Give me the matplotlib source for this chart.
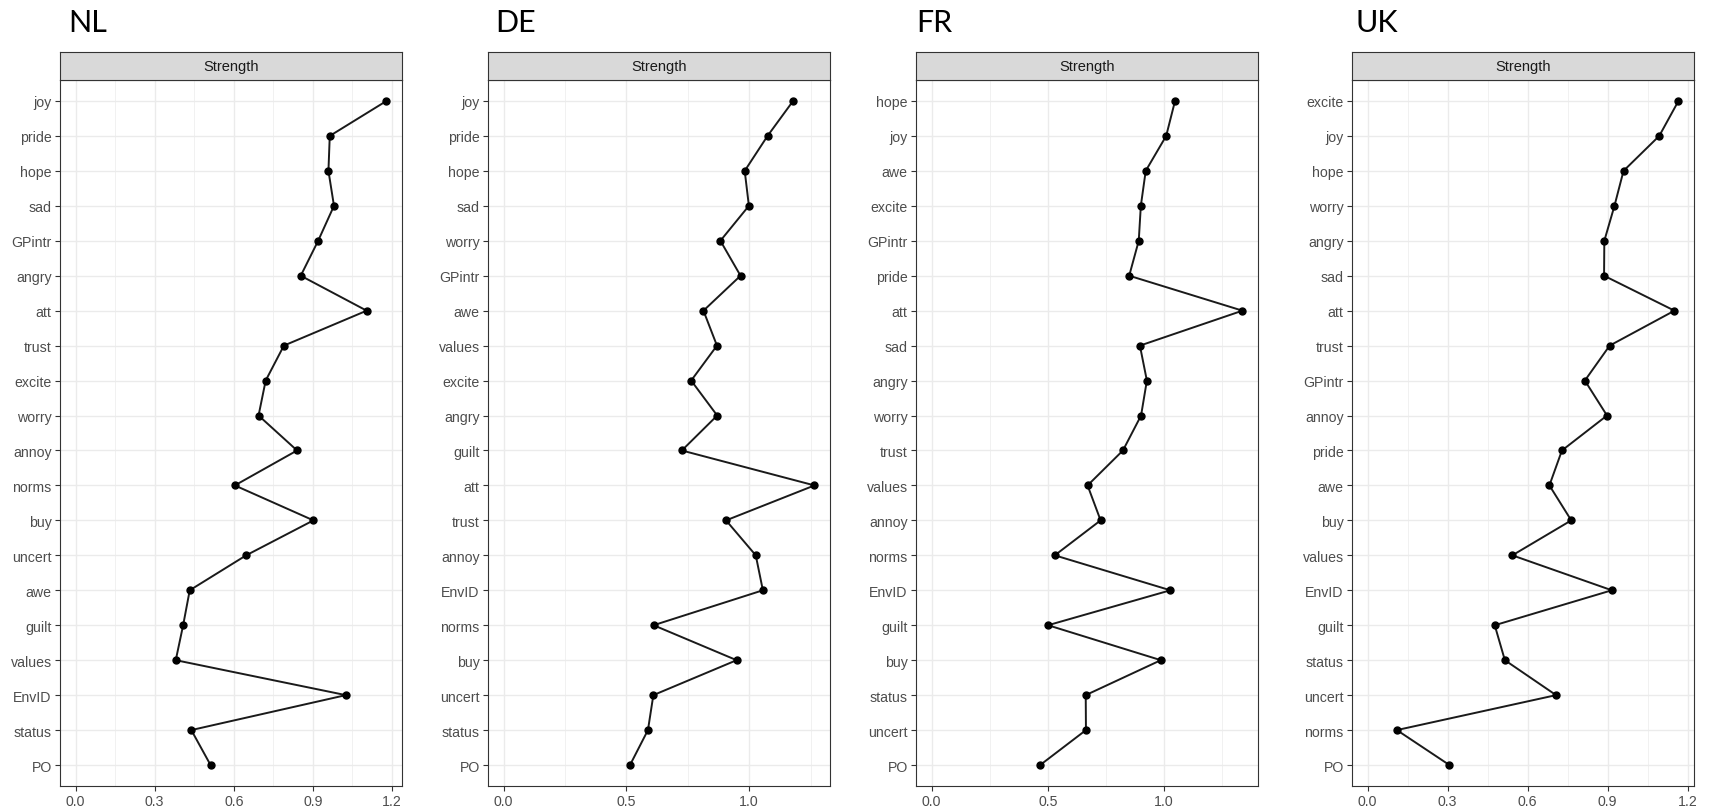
import matplotlib
matplotlib.use("Agg")
import matplotlib.pyplot as plt
from matplotlib.ticker import MultipleLocator, FormatStrFormatter

# =====================================================
# Data (top to bottom)
# =====================================================

countries = ["NL", "DE", "FR", "UK"]

nl_labels = ["joy", "pride", "hope", "sad", "GPintr", "angry", "att", "trust",
             "excite", "worry", "annoy", "norms", "buy", "uncert", "awe",
             "guilt", "values", "EnvID", "status", "PO"]
nl_vals = [1.179, 0.964, 0.959, 0.980, 0.920, 0.854, 1.104, 0.790, 0.721,
           0.694, 0.840, 0.604, 0.902, 0.647, 0.433, 0.408, 0.380, 1.025,
           0.439, 0.512]

de_labels = ["joy", "pride", "hope", "sad", "worry", "GPintr", "awe", "values",
             "excite", "angry", "guilt", "att", "trust", "annoy", "EnvID",
             "norms", "buy", "uncert", "status", "PO"]
de_vals = [1.179, 1.075, 0.982, 0.999, 0.883, 0.965, 0.814, 0.869, 0.764,
           0.870, 0.726, 1.266, 0.906, 1.027, 1.056, 0.611, 0.949, 0.610,
           0.588, 0.515]

fr_labels = ["hope", "joy", "awe", "excite", "GPintr", "pride", "att", "sad",
             "angry", "worry", "trust", "values", "annoy", "norms", "EnvID",
             "guilt", "buy", "status", "uncert", "PO"]
fr_vals = [1.047, 1.009, 0.921, 0.900, 0.891, 0.850, 1.337, 0.896, 0.926,
           0.901, 0.823, 0.671, 0.727, 0.530, 1.027, 0.501, 0.986, 0.663,
           0.664, 0.467]

uk_labels = ["excite", "joy", "hope", "worry", "angry", "sad", "att", "trust",
             "GPintr", "annoy", "pride", "awe", "buy", "values", "EnvID",
             "guilt", "status", "uncert", "norms", "PO"]
uk_vals = [1.166, 1.094, 0.960, 0.926, 0.888, 0.887, 1.151, 0.908, 0.815,
           0.898, 0.729, 0.682, 0.764, 0.543, 0.916, 0.477, 0.515, 0.707,
           0.110, 0.307]

tick_steps = [0.3, 0.5, 0.5, 0.3]

panels = [
    (nl_labels, nl_vals),
    (de_labels, de_vals),
    (fr_labels, fr_vals),
    (uk_labels, uk_vals),
]

# =====================================================
# Layout (pixels of a 1713x812 canvas)
# =====================================================

W, H = 1713, 812
panel_lefts = [60, 488, 916, 1352]
title_lefts = [68, 495, 916, 1356]
panel_w = 342
panel_top = 81
panel_bottom = 787
strip_top = 53

plt.rcParams["font.family"] = ["Liberation Sans", "DejaVu Sans"]

fig = plt.figure(figsize=(W / 100, H / 100), dpi=100)

for i, (labels, vals) in enumerate(panels):
    left = panel_lefts[i] / W
    width = panel_w / W
    bottom = (H - panel_bottom) / H
    height = (panel_bottom - panel_top) / H

    ax = fig.add_axes([left, bottom, width, height])
    n = len(labels)
    ypos = list(range(n))

    ax.plot(vals, ypos, color="#1a1a1a", lw=1.4, zorder=3)
    ax.plot(vals, ypos, "o", color="black", ms=5, zorder=4)

    top_val = max(vals)
    ax.set_xlim(-0.05 * top_val, 1.05 * top_val)
    ax.set_ylim(n - 1 + 0.6, -0.6)

    ax.set_yticks(ypos)
    ax.set_yticklabels(labels)
    ax.xaxis.set_major_locator(MultipleLocator(tick_steps[i]))
    ax.xaxis.set_minor_locator(MultipleLocator(tick_steps[i] / 2))
    ax.xaxis.set_major_formatter(FormatStrFormatter("%.1f"))

    ax.grid(which="major", color="#ebebeb", lw=1.0, zorder=0)
    ax.grid(which="minor", axis="x", color="#ebebeb", lw=0.5, zorder=0)
    ax.set_axisbelow(True)

    ax.tick_params(axis="both", which="major", length=3.5, width=0.8,
                   color="#333333", labelcolor="#4d4d4d", labelsize=10.2, pad=2.5)
    ax.tick_params(axis="x", which="minor", length=0)

    for sp in ax.spines.values():
        sp.set_color("#333333")
        sp.set_linewidth(0.8)

    # strip
    sax = fig.add_axes([left, (H - panel_top) / H, width, (panel_top - strip_top) / H])
    sax.set_facecolor("#d9d9d9")
    sax.set_xticks([])
    sax.set_yticks([])
    for sp in sax.spines.values():
        sp.set_color("#333333")
        sp.set_linewidth(0.8)
    sax.text(0.5, 0.5, "Strength", ha="center", va="center",
             fontsize=10.5, color="#1a1a1a", transform=sax.transAxes)

    fig.text(title_lefts[i] / W, (H - 32) / H, countries[i],
             fontsize=22, family=["Lato", "DejaVu Sans"],
             ha="left", va="baseline", color="black")

fig.savefig("out.png", dpi=100)
